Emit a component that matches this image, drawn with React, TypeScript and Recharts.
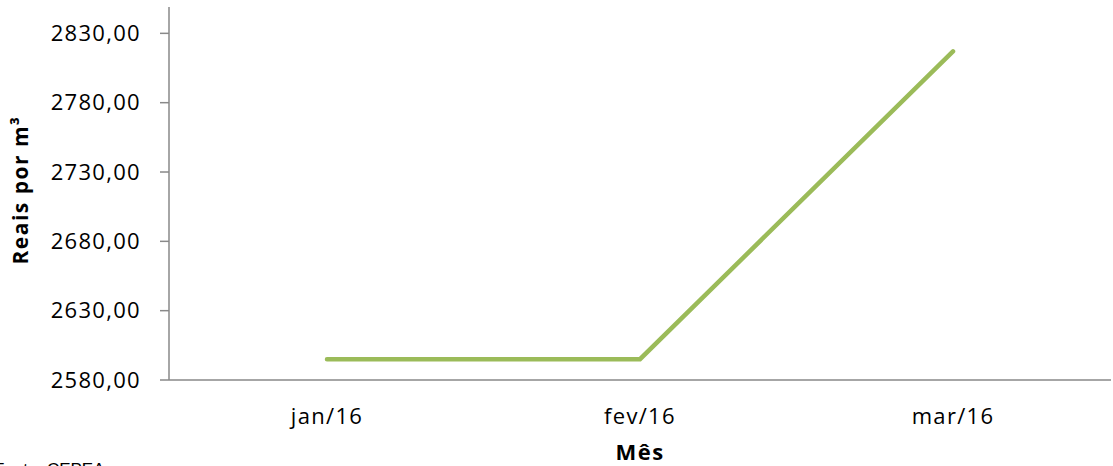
import React from 'react';
import { LineChart, Line, XAxis, YAxis, Customized } from 'recharts';

const months = ['jan/16', 'fev/16', 'mar/16'];
const prices = [2595, 2595, 2817];
const yTicks = [2580, 2630, 2680, 2730, 2780, 2830];

const data = months.map((m, i) => ({ month: m, price: prices[i] }));

const fmt = (v: number) => v.toFixed(2).replace('.', ',');
const FONT = "'Open Sans', sans-serif";
const AXIS = '#898989';

const Labels = () => (
  <g>
    <text
      x={0}
      y={0}
      transform="translate(28,190) rotate(-90)"
      textAnchor="middle"
      fontFamily={FONT}
      fontWeight={700}
      fontSize={21}
      letterSpacing={1.5}
      fill="#000"
    >
      Reais por  m³
    </text>
    <text x={640} y={460} textAnchor="middle" fontFamily={FONT} fontWeight={700} fontSize={22} letterSpacing={1.5} fill="#000">
      Mês
    </text>
    <text x={-6} y={475} fontFamily="'Liberation Sans', Arial, sans-serif" fontSize={17} fill="#000">
      Fonte: CEPEA
    </text>
  </g>
);

export default function App() {
  return (
    <div style={{ position: 'absolute', left: 0, top: 0, background: '#fff' }}>
      <LineChart width={1113} height={466} data={data} margin={{ top: 7, right: 2, bottom: 0, left: 0 }}>
        <XAxis
          dataKey="month"
          height={86}
          tickLine={false}
          axisLine={{ stroke: AXIS, strokeWidth: 1.5 }}
          tick={{ fontFamily: FONT, fontSize: 22, fill: '#000', letterSpacing: 1.3 }}
          tickSize={6}
          tickMargin={22}
          padding={{ left: 158, right: 158 }}
        />
        <YAxis
          width={169}
          domain={[2580, 2849]}
          ticks={yTicks}
          tickFormatter={fmt}
          allowDataOverflow
          axisLine={{ stroke: AXIS, strokeWidth: 1.5 }}
          tickLine={{ stroke: AXIS, strokeWidth: 1.5 }}
          tickSize={9}
          tickMargin={19}
          tick={{ fontFamily: FONT, fontSize: 22, fill: '#000', letterSpacing: 1.3 }}
        />
        <Line
          type="linear"
          dataKey="price"
          stroke="#9BBB59"
          strokeWidth={4.5}
          strokeLinecap="round"
          strokeLinejoin="miter"
          dot={false}
          activeDot={false}
          isAnimationActive={false}
        />
        <Customized component={Labels} />
      </LineChart>
    </div>
  );
}
